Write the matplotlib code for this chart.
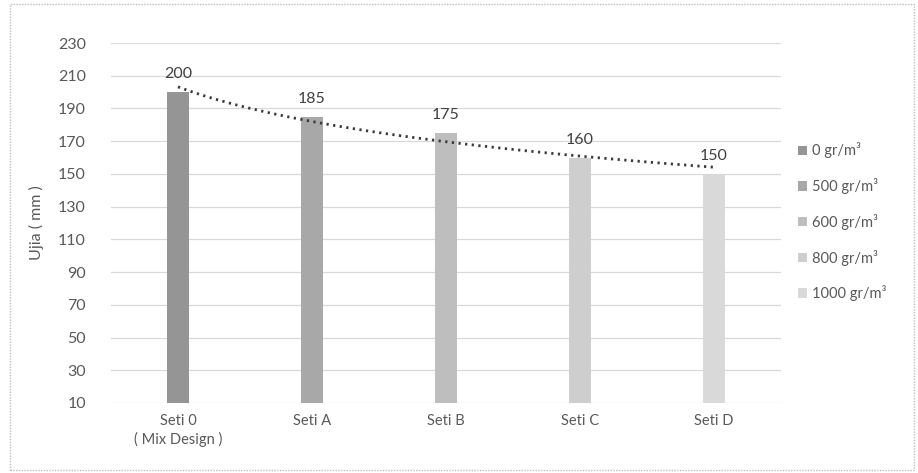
import matplotlib
matplotlib.use("Agg")
import matplotlib.pyplot as plt
from matplotlib.patches import Rectangle
import numpy as np

plt.rcParams["font.family"] = ["Lato", "DejaVu Sans"]

# data
categories = ["Seti 0\n( Mix Design )", "Seti A", "Seti B", "Seti C", "Seti D"]
series_names = ["0 gr/m³", "500 gr/m³", "600 gr/m³", "800 gr/m³", "1000 gr/m³"]
slump_mm = [200, 185, 175, 160, 150]
bar_colors = ["#959595", "#a8a8a8", "#bebebe", "#cecece", "#d9d9d9"]
y_ticks = list(range(10, 231, 20))

text_color = "#595959"

fig = plt.figure(figsize=(9.18, 4.73), dpi=100)
ax = fig.add_axes([0.1209, 0.148, 0.7299, 0.761])

x = np.arange(len(categories))
for i, (name, val, col) in enumerate(zip(series_names, slump_mm, bar_colors)):
    ax.bar(x[i], val - 10, bottom=10, width=0.165, color=col, label=name, zorder=3)
    ax.text(x[i], val + 6.5, str(val), ha="center", va="bottom", fontsize=11.5, color="#404040")

# logarithmic trendline (like Excel's)
xs = np.linspace(1, len(slump_mm), 100)
b, a = np.polyfit(np.log(np.arange(1, len(slump_mm) + 1)), slump_mm, 1)
ax.plot(xs - 1, a + b * np.log(xs), color="#3a3a3a", lw=2.0, ls=(0, (0.8, 1.6)), zorder=4)

ax.set_xlim(-0.5, len(categories) - 0.5)
ax.set_ylim(10, 230)
ax.set_yticks(y_ticks)
ax.set_xticks(x)
ax.set_xticklabels(categories, fontsize=10.5, color=text_color, linespacing=1.3)
ax.tick_params(axis="y", labelsize=11.5, labelcolor=text_color, length=0, pad=18)
ax.tick_params(axis="x", length=0, pad=8)
ax.grid(axis="y", color="#d9d9d9", lw=0.9, zorder=0)
for s in ax.spines.values():
    s.set_visible(False)

ax.set_ylabel("Ujia ( mm )", fontsize=11.5, color=text_color, labelpad=10)

fig.legend(loc="center left", bbox_to_anchor=(0.863, 0.531), frameon=False,
           fontsize=10.5, labelcolor=text_color, handlelength=0.6, handleheight=0.6,
           handletextpad=0.35, labelspacing=1.35, borderaxespad=0)

# dotted frame around the chart area
fig.patches.append(Rectangle((0.011, 0.006), 0.985, 0.985, transform=fig.transFigure,
                             fill=False, ec="#bdbdbd", lw=1.0, ls=(0, (1, 1))))

fig.savefig("out.png", dpi=100)
